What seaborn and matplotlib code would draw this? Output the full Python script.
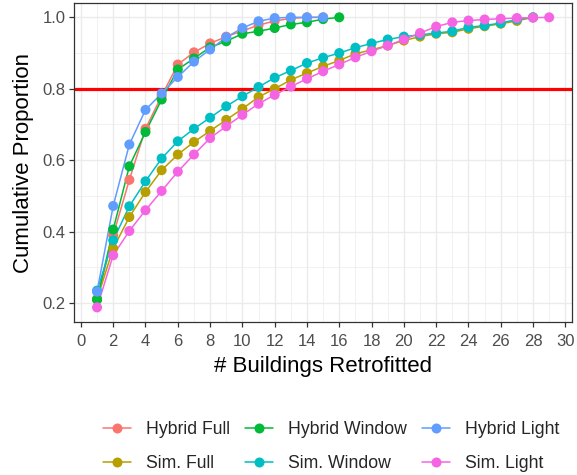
import matplotlib
matplotlib.use("Agg")
import matplotlib.pyplot as plt
from matplotlib.lines import Line2D
from matplotlib.ticker import MultipleLocator
import seaborn as sns
import pandas as pd
import numpy as np

# ---- data ----
hybrid_full = [0.210, 0.390, 0.545, 0.688, 0.780, 0.868, 0.902, 0.927, 0.946, 0.962,
               0.978, 0.990, 0.997, 1.000, 1.000]
hybrid_window = [0.210, 0.406, 0.583, 0.679, 0.770, 0.854, 0.885, 0.916, 0.933, 0.954,
                 0.961, 0.970, 0.980, 0.986, 0.995, 1.000]
hybrid_light = [0.232, 0.472, 0.644, 0.741, 0.787, 0.833, 0.876, 0.910, 0.944, 0.970,
                0.989, 0.998, 1.000, 1.000, 1.000]
sim_full = [0.211, 0.353, 0.441, 0.511, 0.572, 0.616, 0.651, 0.682, 0.713, 0.744,
            0.777, 0.800, 0.825, 0.844, 0.863, 0.879, 0.898, 0.909, 0.921, 0.935,
            0.946, 0.954, 0.958, 0.968, 0.975, 0.982, 0.990, 1.000]
sim_window = [0.235, 0.376, 0.471, 0.541, 0.605, 0.653, 0.688, 0.719, 0.751, 0.779,
              0.805, 0.831, 0.851, 0.872, 0.887, 0.900, 0.915, 0.927, 0.938, 0.946,
              0.951, 0.956, 0.961, 0.972, 0.977, 0.984, 0.994, 1.000]
sim_light = [0.188, 0.334, 0.402, 0.460, 0.514, 0.568, 0.616, 0.662, 0.695, 0.727,
             0.758, 0.783, 0.806, 0.828, 0.849, 0.868, 0.888, 0.905, 0.921, 0.938,
             0.956, 0.974, 0.986, 0.991, 0.994, 0.996, 0.998, 0.999, 1.000]

series_names = ["Hybrid Full", "Sim. Full", "Hybrid Window", "Sim. Window",
                "Hybrid Light", "Sim. Light"]
series_values = [hybrid_full, sim_full, hybrid_window, sim_window, hybrid_light, sim_light]
series_colors = ["#F8766D", "#B79F00", "#00BA38", "#00BFC4", "#619CFF", "#F564E3"]
legend_order = ["Hybrid Full", "Hybrid Window", "Hybrid Light",
                "Sim. Full", "Sim. Window", "Sim. Light"]
threshold = 0.8

rows = []
for name, vals in zip(series_names, series_values):
    for i, v in enumerate(vals):
        rows.append({"n": i + 1, "prop": v, "series": name})
df = pd.DataFrame(rows)
palette = dict(zip(series_names, series_colors))

# ---- style ----
sns.set_theme(style="white")
plt.rcParams["font.family"] = ["Liberation Sans", "DejaVu Sans"]

fig = plt.figure(figsize=(5.77, 4.75), dpi=100)
ax = fig.add_axes([0.129, 0.322, 0.862, 0.6716])

ax.axhline(threshold, color="red", lw=2.3, zorder=1.5)
sns.lineplot(data=df, x="n", y="prop", hue="series", hue_order=series_names,
             palette=palette, ax=ax, legend=False, lw=1.1, zorder=2)
sns.scatterplot(data=df, x="n", y="prop", hue="series", hue_order=series_names,
                palette=palette, ax=ax, legend=False, s=52, linewidth=0, zorder=3)

ax.set_xlim(-0.4, 30.4)
ax.set_ylim(0.147, 1.040)
ax.xaxis.set_major_locator(MultipleLocator(2))
ax.xaxis.set_minor_locator(MultipleLocator(1))
ax.yaxis.set_major_locator(MultipleLocator(0.2))
ax.yaxis.set_minor_locator(MultipleLocator(0.1))
ax.grid(which="major", color="#EBEBEB", lw=1.0, zorder=0)
ax.grid(which="minor", color="#EBEBEB", lw=0.5, zorder=0)
ax.set_axisbelow(True)
ax.yaxis.set_major_formatter(matplotlib.ticker.FormatStrFormatter("%.1f"))

for s in ax.spines.values():
    s.set_color("#333333")
    s.set_linewidth(0.9)
ax.tick_params(which="major", direction="out", length=3.6, width=0.9, color="#333333",
               labelsize=12, labelcolor="#4D4D4D", bottom=True, left=True)
ax.tick_params(axis="x", which="major", pad=5)
ax.tick_params(axis="y", which="major", pad=3)
ax.tick_params(which="minor", length=0)

ax.set_xlabel("# Buildings Retrofitted", fontsize=16, color="black", labelpad=5)
ax.set_ylabel("Cumulative Proportion", fontsize=16, color="black", labelpad=6)

handles = []
for name in legend_order:
    c = palette[name]
    handles.append(Line2D([0], [0], color=c, lw=1.1, marker="o", markersize=7.2,
                          markeredgewidth=0, label=name))
# matplotlib fills columns first: reorder so rows read as in legend_order
ncol = 3
nrow = 2
col_major = [handles[r * ncol + c] for c in range(ncol) for r in range(nrow)]
fig.legend(handles=col_major, loc="center", bbox_to_anchor=(0.574, 0.060),
           ncol=ncol, frameon=False, fontsize=12.7, handlelength=1.57,
           handletextpad=0.87, columnspacing=0.85, labelspacing=1.0,
           borderpad=0)

fig.savefig("out.png", dpi=100)
